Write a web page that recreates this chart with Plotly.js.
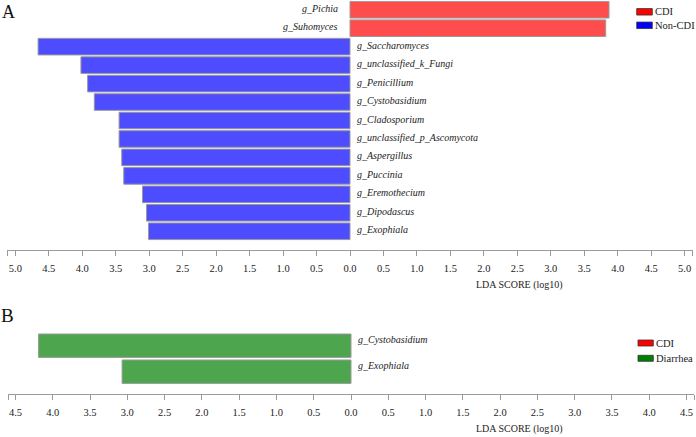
<!DOCTYPE html>
<html>
<head>
<meta charset="utf-8">
<script src="https://cdn.plot.ly/plotly-3.0.1.min.js"></script>
<style>html,body{margin:0;padding:0;background:#fff;}#chart{width:696px;height:437px;}</style>
</head>
<body>
<div id="chart"></div>
<script>
// ---- Panel A data ----
const topGenera = ['g_Pichia','g_Suhomyces','g_Saccharomyces','g_unclassified_k_Fungi','g_Penicillium',
  'g_Cystobasidium','g_Cladosporium','g_unclassified_p_Ascomycota','g_Aspergillus','g_Puccinia',
  'g_Eremothecium','g_Dipodascus','g_Exophiala'];
const topScores = [3.87, 3.82, 4.66, 4.02, 3.92, 3.82, 3.45, 3.45, 3.41, 3.38, 3.10, 3.04, 3.01];
const topGroups = ['CDI','CDI','Non-CDI','Non-CDI','Non-CDI','Non-CDI','Non-CDI','Non-CDI','Non-CDI',
  'Non-CDI','Non-CDI','Non-CDI','Non-CDI'];
const topLegend = ['CDI','Non-CDI'];
const topTickVals = [-5.12,-5,-4.5,-4,-3.5,-3,-2.5,-2,-1.5,-1,-0.5,0,0.5,1,1.5,2,2.5,3,3.5,4,4.5,5,5.12];
const topTickText = ['','5.0','4.5','4.0','3.5','3.0','2.5','2.0','1.5','1.0','0.5','0.0','0.5','1.0','1.5','2.0','2.5','3.0','3.5','4.0','4.5','5.0',''];

// ---- Panel B data ----
const bottomGenera = ['g_Cystobasidium','g_Exophiala'];
const bottomScores = [4.19, 3.07];
const bottomGroups = ['Diarrhea','Diarrhea'];
const bottomLegend = ['CDI','Diarrhea'];
const bottomTickVals = [-4.6,-4.5,-4,-3.5,-3,-2.5,-2,-1.5,-1,-0.5,0,0.5,1,1.5,2,2.5,3,3.5,4,4.5,4.6];
const bottomTickText = ['','4.5','4.0','3.5','3.0','2.5','2.0','1.5','1.0','0.5','0.0','0.5','1.0','1.5','2.0','2.5','3.0','3.5','4.0','4.5',''];

const axisTitle = 'LDA SCORE (log10)';
const panelLetters = ['A','B'];

// ---- styles ----
const FONT = '"Liberation Serif", "Times New Roman", Times, serif';
const barColor = {'CDI':'#FF4D4D','Non-CDI':'#4D4DFF','Diarrhea':'#4DA64D'};
const swatchColor = {'CDI':'#FF0000','Non-CDI':'#0000FF','Diarrhea':'#008000'};
const leftward = {'CDI':false,'Non-CDI':true,'Diarrhea':true};

function panel(genera, scores, groups, xa, ya, barWidth, labelYShift) {
  const traces = [];
  const anns = [];
  const uniq = [...new Set(groups)];
  uniq.forEach(g => {
    const xs = [], ys = [];
    genera.forEach((n, i) => {
      if (groups[i] === g) { xs.push(leftward[g] ? -scores[i] : scores[i]); ys.push(n); }
    });
    traces.push({
      type:'bar', orientation:'h', x: xs, y: ys, name: g,
      xaxis: xa, yaxis: ya, width: barWidth,
      marker:{color: barColor[g], line:{color:'#9a9a9a', width:1}},
      hoverinfo:'none', showlegend:false
    });
  });
  genera.forEach((n, i) => {
    const left = leftward[groups[i]];
    anns.push({
      xref: xa, yref: ya, x: 0, y: n, text: '<i>' + n + '</i>', showarrow:false,
      xanchor: left ? 'left' : 'right', yanchor:'middle',
      xshift: left ? 5 : -10, yshift: labelYShift,
      font:{family: FONT, size: 10, color:'#222'}
    });
  });
  return {traces, anns};
}

const A = panel(topGenera, topScores, topGroups, 'x', 'y', 0.9, 1.5);
const B = panel(bottomGenera, bottomScores, bottomGroups, 'x2', 'y2', 0.9, 6);

const W = 696, H = 437;
const px = v => v / W;
const py = v => 1 - v / H;

const shapes = [];
const anns = [...A.anns, ...B.anns];

function legend(names, x0, x1, ys, hs) {
  names.forEach((n, i) => {
    shapes.push({type:'rect', xref:'paper', yref:'paper',
      x0: px(x0), x1: px(x1), y0: py(ys[i] - hs/2), y1: py(ys[i] + hs/2),
      fillcolor: swatchColor[n], line:{color:'#333', width:0.8}});
    anns.push({xref:'paper', yref:'paper', x: px(x1 + 0.5), y: py(ys[i]), text: n,
      showarrow:false, xanchor:'left', yanchor:'middle',
      font:{family: FONT, size: 10.5, color:'#222'}});
  });
}
legend(topLegend, 636.7, 652.3, [11.8, 25.3], 6.5);
legend(bottomLegend, 638, 653.3, [343, 358.3], 6);

// axis titles
anns.push({xref:'paper', yref:'paper', x: px(519), y: py(285), text: axisTitle, showarrow:false,
  xanchor:'center', yanchor:'middle', font:{family: FONT, size: 10, color:'#222'}});
anns.push({xref:'paper', yref:'paper', x: px(519), y: py(429.3), text: axisTitle, showarrow:false,
  xanchor:'center', yanchor:'middle', font:{family: FONT, size: 10, color:'#222'}});
// panel letters
anns.push({xref:'paper', yref:'paper', x: px(8.8), y: py(12), text: panelLetters[0], showarrow:false,
  xanchor:'center', yanchor:'middle', font:{family: FONT, size: 18, color:'#111'}});
anns.push({xref:'paper', yref:'paper', x: px(7.5), y: py(315), text: panelLetters[1], showarrow:false,
  xanchor:'center', yanchor:'middle', font:{family: FONT, size: 19, color:'#111'}});

const xCommon = {
  showline:true, linecolor:'#9a9a9a', linewidth:1, ticks:'outside', ticklen:5, tickcolor:'#9a9a9a', tickwidth:1,
  tickmode:'array', showgrid:false, zeroline:false, fixedrange:true, ticklabelstandoff:3,
  tickfont:{family: FONT, size: 10.5, color:'#222'}
};

const layout = {
  width: W, height: H, margin:{l:0,r:0,t:0,b:0},
  paper_bgcolor:'#fff', plot_bgcolor:'#fff', showlegend:false, barmode:'overlay',
  xaxis: Object.assign({}, xCommon, {domain:[px(7.3), px(692.7)], range:[-5.12, 5.12], anchor:'y',
    tickvals: topTickVals, ticktext: topTickText}),
  yaxis: {domain:[py(250), py(0.5)], type:'category', categoryorder:'array', categoryarray: topGenera,
    range:[13.015, -0.5], visible:false, anchor:'x', fixedrange:true},
  xaxis2: Object.assign({}, xCommon, {domain:[px(8), px(694)], range:[-4.6, 4.6], anchor:'y2',
    tickvals: bottomTickVals, ticktext: bottomTickText}),
  yaxis2: {domain:[py(394.3), py(332.7)], type:'category', categoryorder:'array', categoryarray: bottomGenera,
    range:[1.87, -0.5], visible:false, anchor:'x2', fixedrange:true},
  shapes: shapes,
  annotations: anns
};

Plotly.newPlot('chart', [...A.traces, ...B.traces], layout, {displayModeBar:false, staticPlot:true});
</script>
</body>
</html>
